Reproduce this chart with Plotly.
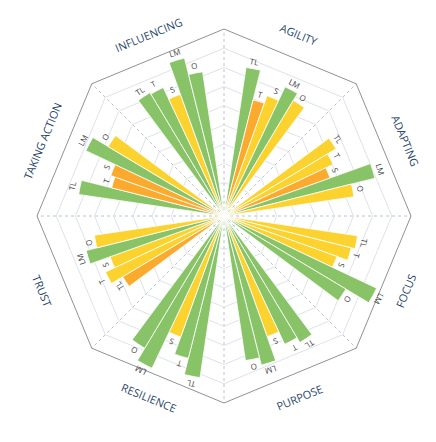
import math
import plotly.graph_objects as go

# ---------------- data ----------------
categories = ["AGILITY", "ADAPTING", "FOCUS", "PURPOSE",
              "RESILIENCE", "TRUST", "TAKING ACTION", "INFLUENCING"]
groups = ["TL", "T", "S", "LM", "O"]

agility = [7.83, 6.24, 6.66, 7.45, 7.03]
adapting = [6.81, 6.29, 5.87, 8.11, 6.85]
focus = [7.04, 6.84, 6.25, 8.80, 7.41]
purpose = [7.69, 7.40, 6.68, 8.01, 7.62]
resilience = [8.52, 7.65, 6.70, 8.78, 8.04]
trust = [6.16, 6.84, 6.31, 7.41, 6.83]
taking_action = [7.66, 6.04, 6.27, 7.97, 7.04]
influencing = [7.50, 7.41, 6.74, 8.49, 7.60]

agility_band = ["high", "low", "mid", "high", "mid"]
adapting_band = ["mid", "mid", "low", "high", "mid"]
focus_band = ["mid", "mid", "mid", "high", "high"]
purpose_band = ["high", "high", "mid", "high", "high"]
resilience_band = ["high", "high", "mid", "high", "high"]
trust_band = ["low", "mid", "mid", "high", "mid"]
taking_action_band = ["high", "low", "low", "high", "mid"]
influencing_band = ["high", "high", "mid", "high", "high"]

ring_ticks = [0.75, 1.75, 2.75, 3.75, 4.75, 5.75, 6.75, 7.75, 8.75]
r_max = 9.75

# ---------------- styling ----------------
band_colors = {"high": "#88c367", "mid": "#fcd22f", "low": "#fbaa2d"}
values = [agility, adapting, focus, purpose, resilience, trust, taking_action, influencing]
bands = [agility_band, adapting_band, focus_band, purpose_band, resilience_band,
         trust_band, taking_action_band, influencing_band]

n_cat = len(categories)
sector = 360.0 / n_cat
slot = sector / 8.0

thetas, rs, cols, labels = [], [], [], []
for k in range(n_cat):
    centre = sector * (k + 0.5)
    for i, g in enumerate(groups):
        thetas.append(centre + (i - 2) * slot)
        rs.append(values[k][i])
        cols.append(band_colors[bands[k][i]])
        labels.append(g)

def norm(a):
    return ((a + 180.0) % 360.0) - 180.0

fig = go.Figure()

# grid subplot (octagon)
vertices = ["v%d" % j for j in range(n_cat)]
fig.add_trace(go.Scatterpolar(r=[0] * n_cat, theta=vertices, mode="markers",
                              marker=dict(size=1, opacity=0), hoverinfo="skip",
                              showlegend=False, subplot="polar"))

# bars
fig.add_trace(go.Barpolar(r=rs, theta=thetas, width=[slot] * len(rs),
                          marker=dict(color=cols, line=dict(color="white", width=0.8)),
                          text=labels, hoverinfo="text+r", showlegend=False,
                          subplot="polar2"))

# dummy cartesian trace for label placement
fig.add_trace(go.Scatter(x=[0], y=[0], mode="markers", marker=dict(opacity=0),
                         hoverinfo="skip", showlegend=False))

annotations = []
for t, r, lab in zip(thetas, rs, labels):
    rr = r + 0.4
    annotations.append(dict(
        x=rr * math.sin(math.radians(t)), y=rr * math.cos(math.radians(t)),
        xref="x", yref="y", text=lab, showarrow=False,
        xanchor="center", yanchor="middle", textangle=norm(t),
        font=dict(family="Open Sans", size=8, color="#444444")))

for k, c in enumerate(categories):
    t = sector * (k + 0.5)
    rr = 10.22
    ang = t if (t < 90 or t > 270) else t - 180
    annotations.append(dict(
        x=rr * math.sin(math.radians(t)), y=rr * math.cos(math.radians(t)),
        xref="x", yref="y", text=c, showarrow=False,
        xanchor="center", yanchor="middle", textangle=norm(ang),
        font=dict(family="Open Sans", size=11, color="#27466b")))

fig.update_layout(
    width=436, height=442,
    margin=dict(l=29, r=33, t=21, b=47),
    paper_bgcolor="white", plot_bgcolor="rgba(0,0,0,0)",
    showlegend=False,
    polar=dict(
        domain=dict(x=[0, 1], y=[0, 1]),
        gridshape="linear", bgcolor="white",
        angularaxis=dict(type="category", categoryorder="array", categoryarray=vertices,
                         rotation=90, direction="clockwise",
                         showgrid=True, gridcolor="#b9c4d0", gridwidth=1, griddash="dot",
                         showline=True, linecolor="#8d9299", linewidth=1,
                         showticklabels=False, ticks=""),
        radialaxis=dict(range=[0, r_max], tickvals=ring_ticks, showgrid=True,
                        gridcolor="#dde3ea", gridwidth=1, showline=False,
                        showticklabels=False, ticks="")),
    polar2=dict(
        domain=dict(x=[0, 1], y=[0, 1]),
        bgcolor="rgba(0,0,0,0)",
        angularaxis=dict(type="linear", rotation=90, direction="clockwise",
                         visible=False, showgrid=False, showline=False),
        radialaxis=dict(range=[0, r_max], visible=False, showgrid=False)),
    xaxis=dict(range=[-r_max, r_max], visible=False, domain=[0, 1], fixedrange=True),
    yaxis=dict(range=[-r_max, r_max], visible=False, domain=[0, 1], fixedrange=True),
    annotations=annotations,
)

fig.write_html("out.html")
